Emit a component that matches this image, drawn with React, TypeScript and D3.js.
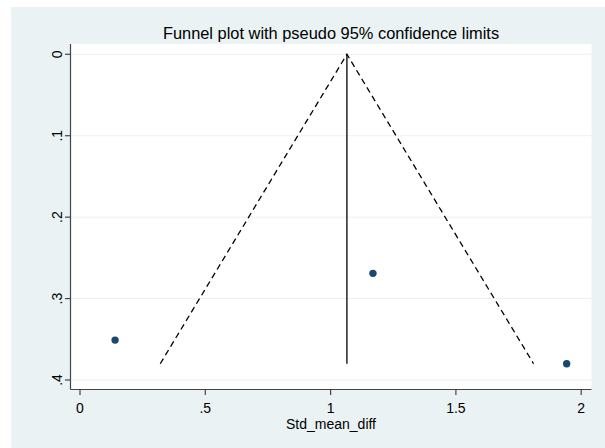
import React from 'react';
import * as d3 from 'd3';

// study estimates
const effects = [0.14, 1.169, 1.942];
const stdErrs = [0.351, 0.269, 0.38];
const xTicks = [0, 0.5, 1, 1.5, 2];
const xTickLabels = ['0', '.5', '1', '1.5', '2'];
const yTicks = [0, 0.1, 0.2, 0.3, 0.4];
const yTickLabels = ['0', '.1', '.2', '.3', '.4'];

const W = 605;
const H = 448;
const font = '"Liberation Sans", Arial, Helvetica, sans-serif';

const App = () => {
  const x = d3.scaleLinear().domain([0, 2]).range([80, 581.2]);
  const y = d3.scaleLinear().domain([0, 0.4]).range([54.3, 380]);

  // fixed-effect pooled estimate
  const w = stdErrs.map((s) => 1 / (s * s));
  const pooled = d3.sum(effects.map((e, i) => e * w[i])) / d3.sum(w);
  const seMax = d3.max(stdErrs) as number;

  const line = d3.line<[number, number]>()
    .x((d) => x(d[0]))
    .y((d) => y(d[1]));

  const funnel: [number, number][] = [
    [pooled - 1.96 * seMax, seMax],
    [pooled, 0],
    [pooled + 1.96 * seMax, seMax],
  ];

  const left = 70.5, right = 591.5, top = 44, bottom = 389.5;

  return (
    <svg width={W} height={H} style={{ position: 'absolute', left: 0, top: 0 }} fontFamily={font}>
      <rect x={0} y={0} width={W} height={H} fill="#ffffff" />
      <rect x={11} y={7} width={W - 11} height={H - 7} fill="#eaf2f3" />
      <rect x={left} y={top} width={right - left} height={bottom - top} fill="#ffffff" />

      {yTicks.map((t) => (
        <line key={'g' + t} x1={left} x2={right} y1={y(t)} y2={y(t)} stroke="#eaf2f3" strokeWidth={1} />
      ))}

      <text x={(left + right) / 2} y={39} textAnchor="middle" fontSize={16.4} fill="#000">
        Funnel plot with pseudo 95% confidence limits
      </text>

      <path d={line(funnel) as string} fill="none" stroke="#000" strokeWidth={1.3} strokeDasharray="6,4" />
      <line x1={x(pooled)} x2={x(pooled)} y1={y(0)} y2={y(seMax)} stroke="#000" strokeWidth={1.3} />

      {effects.map((e, i) => (
        <circle key={i} cx={x(e)} cy={y(stdErrs[i])} r={3.7} fill="#1a476f" />
      ))}

      <line x1={left} x2={left} y1={top} y2={bottom} stroke="#444" strokeWidth={1.2} />
      <line x1={left} x2={right} y1={bottom} y2={bottom} stroke="#444" strokeWidth={1.2} />

      {yTicks.map((t, i) => (
        <g key={'y' + t}>
          <line x1={left - 5.5} x2={left} y1={y(t)} y2={y(t)} stroke="#444" strokeWidth={1.2} />
          <text
            transform={`translate(${left - 9},${y(t)}) rotate(-90)`}
            textAnchor="middle"
            fontSize={14}
            fill="#000"
          >
            {yTickLabels[i]}
          </text>
        </g>
      ))}

      {xTicks.map((t, i) => (
        <g key={'x' + t}>
          <line x1={x(t)} x2={x(t)} y1={bottom} y2={bottom + 5.5} stroke="#444" strokeWidth={1.2} />
          <text x={x(t)} y={413} textAnchor="middle" fontSize={14} fill="#000">
            {xTickLabels[i]}
          </text>
        </g>
      ))}

      <text x={331} y={429} textAnchor="middle" fontSize={14} fill="#000">
        Std_mean_diff
      </text>
    </svg>
  );
};

export default App;
